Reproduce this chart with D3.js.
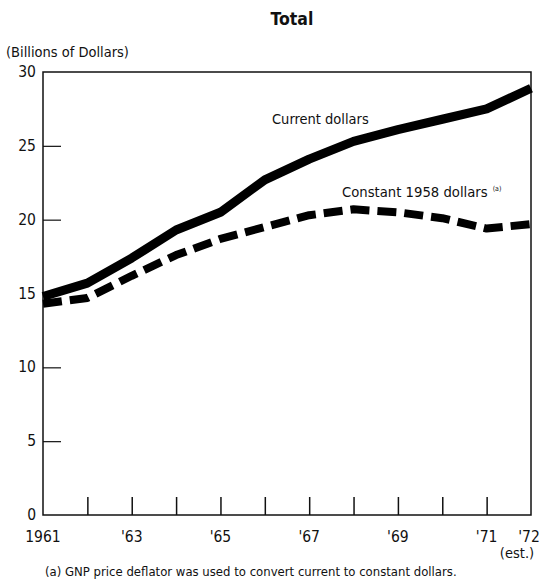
<!DOCTYPE html>
<html>
<head>
<meta charset="utf-8">
<script src="https://cdn.jsdelivr.net/npm/d3@7"></script>
<style>
  html, body { margin: 0; padding: 0; background: #fff; }
  svg { display: block; }
  text { font-family: 'Liberation Sans Narrow', 'DejaVu Sans Condensed', 'Arial Narrow', sans-serif; fill: #111; }
</style>
</head>
<body>
<div id="chart"></div>
<script>
const YEARS = [1961, 1962, 1963, 1964, 1965, 1966, 1967, 1968, 1969, 1970, 1971, 1972];
const CURRENT = [14.8, 15.7, 17.4, 19.3, 20.5, 22.7, 24.1, 25.3, 26.1, 26.8, 27.5, 28.9];
const CONSTANT = [14.3, 14.7, 16.2, 17.6, 18.7, 19.5, 20.3, 20.7, 20.5, 20.1, 19.4, 19.7];
const Y_TICKS = [0, 5, 10, 15, 20, 25, 30];
const X_LABELS = [
  { year: 1961, label: '1961' },
  { year: 1963, label: "'63" },
  { year: 1965, label: "'65" },
  { year: 1967, label: "'67" },
  { year: 1969, label: "'69" },
  { year: 1971, label: "'71" },
  { year: 1972, label: "'72" }
];

const width = 539, height = 582;
const margin = { top: 72, right: 8, bottom: 67, left: 43 };

const svg = d3.select('#chart').append('svg')
  .attr('width', width)
  .attr('height', height);

const x = d3.scaleLinear()
  .domain([1961, 1972])
  .range([margin.left, width - margin.right]);

const y = d3.scaleLinear()
  .domain([0, 30])
  .range([height - margin.bottom, margin.top]);

// frame
svg.append('rect')
  .attr('x', x(1961)).attr('y', y(30))
  .attr('width', x(1972) - x(1961))
  .attr('height', y(0) - y(30))
  .attr('fill', 'none')
  .attr('stroke', '#111')
  .attr('stroke-width', 1.5);

// y ticks (inward)
const yAxis = d3.axisRight(y).tickValues(Y_TICKS.filter(d => d > 0 && d < 30)).tickSize(18).tickFormat('');
svg.append('g')
  .attr('transform', `translate(${x(1961)},0)`)
  .call(yAxis)
  .call(g => g.select('.domain').remove())
  .call(g => g.selectAll('line').attr('stroke', '#111').attr('stroke-width', 1.2));

// y labels
svg.append('g').selectAll('text')
  .data(Y_TICKS)
  .join('text')
  .attr('x', 36)
  .attr('y', d => y(d) + 5)
  .attr('text-anchor', 'end')
  .attr('font-size', 15.5)
  .text(d => d);

// x ticks (upward)
const xAxis = d3.axisTop(x).tickValues(YEARS.slice(1, -1)).tickSize(18).tickFormat('');
svg.append('g')
  .attr('transform', `translate(0,${y(0)})`)
  .call(xAxis)
  .call(g => g.select('.domain').remove())
  .call(g => g.selectAll('line').attr('stroke', '#111').attr('stroke-width', 1.5));

// x labels
svg.append('g').selectAll('text')
  .data(X_LABELS)
  .join('text')
  .attr('x', d => d.year === 1972 ? x(d.year) - 2 : x(d.year))
  .attr('y', 542)
  .attr('text-anchor', 'middle')
  .attr('font-size', 15.5)
  .text(d => d.label);

svg.append('text')
  .attr('x', x(1972) - 14)
  .attr('y', 558)
  .attr('text-anchor', 'middle')
  .attr('font-size', 14.5)
  .text('(est.)');

// lines
const line = d3.line()
  .x((d, i) => x(YEARS[i]))
  .y(d => y(d));

svg.append('path')
  .datum(CURRENT)
  .attr('d', line)
  .attr('fill', 'none')
  .attr('stroke', '#000')
  .attr('stroke-width', 9)
  .attr('stroke-linejoin', 'round');

svg.append('path')
  .datum(CONSTANT)
  .attr('d', line)
  .attr('fill', 'none')
  .attr('stroke', '#000')
  .attr('stroke-width', 8)
  .attr('stroke-linejoin', 'round')
  .attr('stroke-dasharray', '19,8');

// annotations
svg.append('text')
  .attr('x', 272).attr('y', 124)
  .attr('font-size', 14.5)
  .text('Current dollars');

const constLabel = svg.append('text')
  .attr('x', 342).attr('y', 197)
  .attr('font-size', 14.7)
  .text('Constant 1958 dollars');
constLabel.append('tspan')
  .attr('dx', 5).attr('dy', -6)
  .attr('font-size', 7)
  .text('(a)');

// title & axis caption
svg.append('text')
  .attr('x', 292).attr('y', 25)
  .attr('text-anchor', 'middle')
  .attr('font-size', 17.5)
  .attr('font-weight', 'bold')
  .text('Total');

svg.append('text')
  .attr('x', 6).attr('y', 57)
  .attr('font-size', 14.5)
  .text('(Billions of Dollars)');

svg.append('text')
  .attr('x', 45).attr('y', 576)
  .attr('font-size', 13)
  .text('(a)  GNP price deflator was used to convert current to constant dollars.');
</script>
</body>
</html>
